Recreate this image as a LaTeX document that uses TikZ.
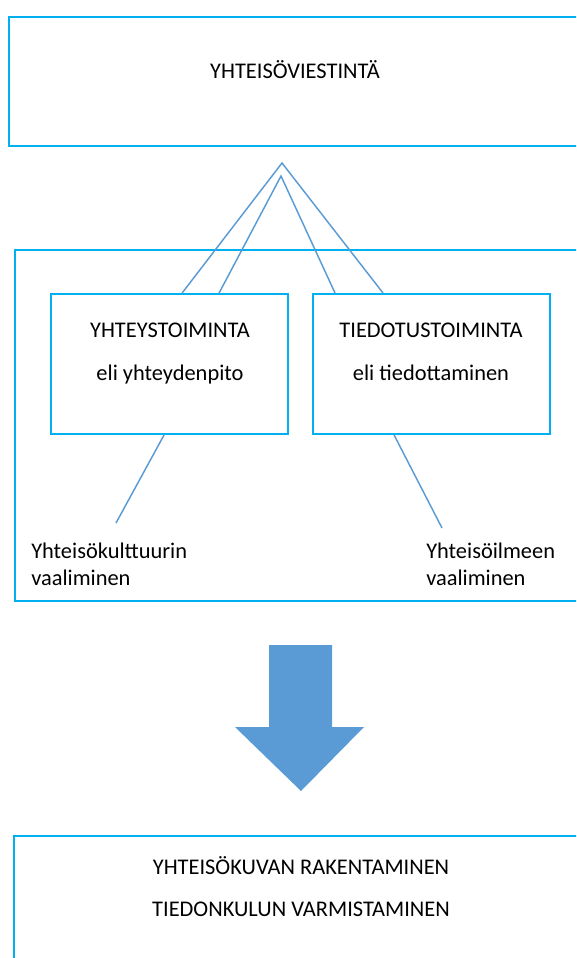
\documentclass[tikz,border=0pt]{standalone}
\usepackage{fontspec}
\setmainfont{Carlito}
\usetikzlibrary{fit,calc}
\definecolor{framecol}{HTML}{00B0F0}
\definecolor{linecol}{HTML}{5B9BD5}
\tikzset{
  frame/.style={draw=framecol,line width=1.4pt,inner sep=0pt},
  txt/.style={font=\fontsize{16.8}{20}\selectfont,inner sep=0pt,anchor=base},
  lbl/.style={font=\fontsize{16.8}{20.3}\selectfont,inner sep=0pt,align=left,anchor=north west},
  link/.style={draw=linecol,line width=1.1pt}
}
\begin{document}
\begin{tikzpicture}[x=0.75pt,y=-0.75pt]
\useasboundingbox (0,0) rectangle (576,958);
\clip (0,0) rectangle (576,958);
% boxes
\node[frame,fit={(9,17) (600,146)}] (viestinta) {};
\node[frame,fit={(15,250) (600,601)}] (kehys) {};
\node[frame,fit={(51,294) (288,434)}] (yhteys) {};
\node[frame,fit={(313,294) (550,434)}] (tiedotus) {};
\node[frame,fit={(14,836) (600,990)}] (tulos) {};
% texts
\node[txt] (viestintaA) at (295,78) {YHTEISÖVIESTINTÄ};
\node[txt] (yhteysA) at (170,337) {YHTEYSTOIMINTA};
\node[txt] (yhteysB) at (170,380) {eli yhteydenpito};
\node[txt] (tiedotusA) at (431,337) {TIEDOTUSTOIMINTA};
\node[txt] (tiedotusB) at (431,380) {eli tiedottaminen};
\node[lbl] (kulttuuri) at (31,543) {Yhteisökulttuurin\\vaaliminen};
\node[lbl] (ilme) at (426,543) {Yhteisöilmeen\\vaaliminen};
\node[txt] (tulosA) at (301,874) {YHTEISÖKUVAN RAKENTAMINEN};
\node[txt] (tulosB) at (301,916) {TIEDONKULUN VARMISTAMINEN};
% connectors
\coordinate (karki) at (282,163);
\coordinate (karki2) at (281,176);
\coordinate (kulttuuriP) at (116,523);
\coordinate (ilmeP) at (442,528);
\draw[link] ($(yhteys.north west)+(132,0)$) -- (karki) -- ($(tiedotus.north west)+(71,0)$);
\draw[link] ($(yhteys.north west)+(169,0)$) -- (karki2) -- ($(tiedotus.north west)+(23,0)$);
\draw[link] ($(yhteys.south west)+(114,0)$) -- (kulttuuriP);
\draw[link] ($(tiedotus.south west)+(82,0)$) -- (ilmeP);
% arrow
\fill[linecol] (269,645) -- (332,645) -- (332,727) -- (364,727) -- (301,791)
  -- (235,727) -- (269,727) -- cycle;
\end{tikzpicture}
\end{document}
